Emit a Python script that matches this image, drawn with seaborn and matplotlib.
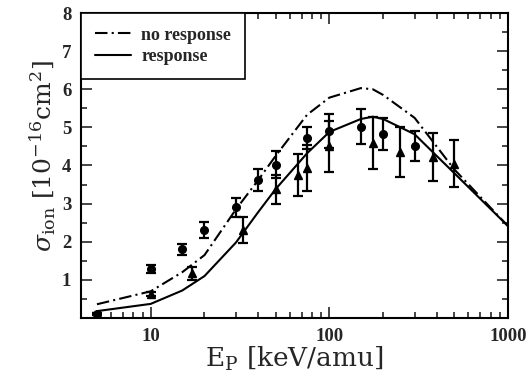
import matplotlib
matplotlib.use("Agg")
import matplotlib.pyplot as plt
import seaborn as sns
import numpy as np
import pandas as pd
from matplotlib.ticker import MultipleLocator, LogLocator, NullFormatter, FixedLocator

# model curves
e_model = [5, 10, 15, 20, 30, 40, 50, 75, 100, 150, 175, 200, 300, 500, 1000]
no_response = [0.36, 0.70, 1.20, 1.65, 2.85, 3.62, 4.25, 5.33, 5.78, 6.03, 6.00, 5.85, 5.25, 3.90, 2.41]
response = [0.18, 0.37, 0.72, 1.10, 1.98, 2.78, 3.38, 4.32, 4.88, 5.22, 5.28, 5.22, 4.82, 3.80, 2.41]

# experiment, circles
e_circ = [5, 10, 15, 20, 30, 40, 50, 75, 100, 150, 200, 300]
s_circ = [0.10, 1.29, 1.80, 2.31, 2.91, 3.62, 4.02, 4.72, 4.91, 5.02, 4.82, 4.51]
d_circ = [0.03, 0.10, 0.15, 0.21, 0.25, 0.30, 0.35, 0.30, 0.44, 0.45, 0.42, 0.40]

# experiment, triangles
e_tri = [5, 10, 17, 33, 50, 67, 75, 100, 175, 250, 380, 500]
s_tri = [0.10, 0.62, 1.17, 2.30, 3.38, 3.75, 3.94, 4.50, 4.59, 4.36, 4.22, 4.05]
d_tri = [0.03, 0.05, 0.18, 0.34, 0.38, 0.56, 0.60, 0.68, 0.69, 0.66, 0.63, 0.62]

sns.set_theme(style="ticks")
plt.rcParams['font.family'] = ['DejaVu Serif']
plt.rcParams['mathtext.fontset'] = 'dejavuserif'

fig = plt.figure(figsize=(5.31, 3.86), dpi=100)
ax = fig.add_axes([0.1525, 0.1762, 0.8042, 0.7901])

models = pd.DataFrame({"E": e_model * 2,
                       "sigma": no_response + response,
                       "model": ["no response"] * len(e_model) + ["response"] * len(e_model)})
sns.lineplot(data=models, x="E", y="sigma", hue="model", style="model",
             palette=["black", "black"], dashes=[(6, 2, 1, 2), ""], linewidth=1.5,
             ax=ax, sort=False)

ax.errorbar(e_circ, s_circ, yerr=d_circ, fmt="o", color="black", ms=5.5,
            capsize=3.8, elinewidth=1.6, capthick=1.6)
ax.errorbar(e_tri, s_tri, yerr=d_tri, fmt="^", color="black", ms=5.5,
            capsize=3.8, elinewidth=1.6, capthick=1.6)

ax.set_xscale("log")
ax.set_xlim(4.07, 1000)
ax.set_ylim(0, 8)
ax.xaxis.set_major_locator(FixedLocator([10, 100, 1000]))
ax.xaxis.set_minor_locator(LogLocator(base=10, subs=np.arange(2, 10)))
ax.xaxis.set_minor_formatter(NullFormatter())
ax.set_xticklabels(["10", "100", "1000"])
ax.yaxis.set_major_locator(FixedLocator([1, 2, 3, 4, 5, 6, 7, 8]))
ax.yaxis.set_minor_locator(MultipleLocator(0.5))

ax.tick_params(which="both", direction="in", top=True, right=True, width=1.2)
ax.tick_params(which="major", length=8, pad=7)
ax.tick_params(which="minor", length=4)
for lab in ax.get_xticklabels() + ax.get_yticklabels():
    lab.set_fontfamily("Liberation Serif")
    lab.set_fontweight("bold")
    lab.set_fontsize(13.5)
for sp in ax.spines.values():
    sp.set_linewidth(1.5)
    sp.set_color("black")

ax.set_xlabel(r"$\mathrm{E_P}$ [keV/amu]", fontsize=19, labelpad=0)
ax.set_ylabel(r"$\sigma_{\mathrm{ion}}\ [10^{-16}\mathrm{cm}^2]$", fontsize=18, labelpad=3)
ax.yaxis.label.set_y(0.53)

handles, labels = ax.get_legend_handles_labels()
leg = ax.legend(handles[:2], labels[:2], loc="upper left", borderaxespad=0,
                frameon=True, fancybox=False, edgecolor="black", handlelength=2.0,
                handletextpad=0.6,
                prop={"family": "Liberation Serif", "weight": "bold", "size": 13},
                borderpad=0.75, labelspacing=0.25)
leg.get_frame().set_linewidth(1.2)
leg.get_frame().set_alpha(1)

fig.savefig("out.png", dpi=100)
